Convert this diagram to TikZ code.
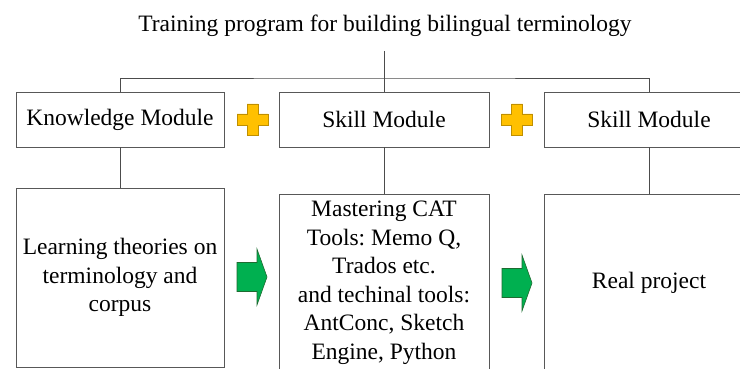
\documentclass[tikz,border=0pt]{standalone}
\usepackage{fontspec}
\setmainfont{Liberation Serif}
\frenchspacing
\definecolor{plusfill}{HTML}{FFC000}
\definecolor{plusline}{HTML}{BF8F00}
\definecolor{arrfill}{HTML}{00B050}
\definecolor{arrline}{HTML}{1E6B30}
\definecolor{boxline}{HTML}{585858}
\tikzset{
  modbox/.style={draw=boxline, line width=0.8pt, fill=white, rectangle, minimum width=208pt, minimum height=55pt, inner sep=0pt, font=\fontsize{23.5}{28.5}\selectfont},
  contbox/.style={draw=boxline, line width=0.8pt, fill=white, rectangle, minimum width=208pt, inner sep=0pt, align=center, font=\fontsize{23.5}{28.5}\selectfont},
  conn/.style={draw=black!70, line width=0.8pt},
  plussign/.style={fill=plusfill, draw=plusline, line width=0.8pt},
  greenarrow/.style={fill=arrfill, draw=arrline, line width=0.6pt}
}
\begin{document}
\begin{tikzpicture}[x=1pt,y=-1pt]
\useasboundingbox (0,0) rectangle (740,369);
\clip (0,0) rectangle (740,369);
\fill[white] (0,0) rectangle (740,369);
% title
\node[anchor=base, inner sep=0pt, font=\fontsize{23.5}{28.5}\selectfont] (title) at (385,32) {Training program for building bilingual terminology};
% module boxes
\node[modbox] (km) at (120,119.5) {Knowledge Module};
\node[modbox, minimum width=210pt] (sm1) at (384,119.5) {Skill Module};
\node[modbox, minimum width=210pt] (sm2) at (649,119.5) {Skill Module};
% content boxes
\node[contbox, minimum height=179pt] (b1) at (120,277.5) {Learning theories on\\terminology and\\corpus};
\node[contbox, minimum width=210pt, minimum height=178pt] (b2) at (384,283) {Mastering CAT\\Tools: Memo Q,\\Trados etc.\\and techinal tools:\\AntConc, Sketch\\Engine, Python};
\node[contbox, minimum width=210pt, minimum height=178pt] (b3) at (649,283) {Real project};
% connectors
\coordinate (stem) at (384,51);
\coordinate (bar) at (384,78);
\draw[conn] (stem) -- (sm1.north);
\draw[conn] (km.north) |- (bar) -| (sm2.north);
\draw[conn] (km.south) -- (b1.north);
\draw[conn] (sm1.south) -- (b2.north);
\draw[conn] (sm2.south) -- (b3.north);
% plus signs
\foreach \cx in {252.5,517} {
  \draw[plussign] (\cx-5.5,104) -- (\cx+5.5,104) -- (\cx+5.5,114) -- (\cx+15.5,114) -- (\cx+15.5,125) -- (\cx+5.5,125) -- (\cx+5.5,135) -- (\cx-5.5,135) -- (\cx-5.5,125) -- (\cx-15.5,125) -- (\cx-15.5,114) -- (\cx-5.5,114) -- cycle;
}
% green arrows
\foreach \ax/\ay in {237/277, 502/283} {
  \draw[greenarrow] (\ax,\ay-14.5) -- (\ax+20,\ay-14.5) -- (\ax+20,\ay-28) -- (\ax+30,\ay) -- (\ax+20,\ay+28) -- (\ax+20,\ay+14.5) -- (\ax,\ay+14.5) -- cycle;
}
\end{tikzpicture}
\end{document}
